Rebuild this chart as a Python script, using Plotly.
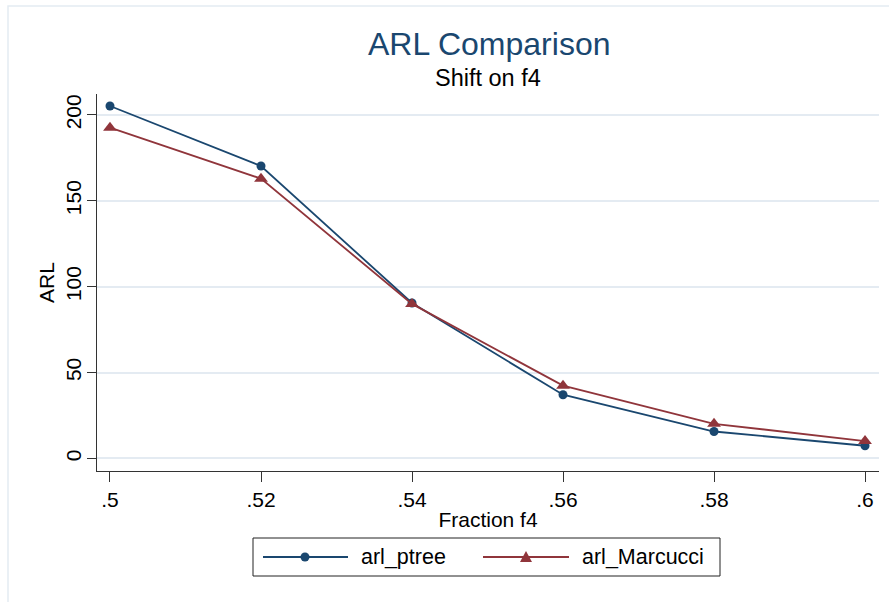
import plotly.graph_objects as go

# ---- data ----
fraction_f4 = [0.50, 0.52, 0.54, 0.56, 0.58, 0.60]
arl_ptree = [205.2, 170.3, 90.5, 37.1, 15.7, 7.4]
arl_marcucci = [192.6, 162.9, 90.0, 42.4, 20.2, 10.1]

x_tickvals = [0.50, 0.52, 0.54, 0.56, 0.58, 0.60]
x_ticktext = [".5", ".52", ".54", ".56", ".58", ".6"]
y_tickvals = [0, 50, 100, 150, 200]
y_ticktext = ["0", "50", "100", "150", "200"]

series_names = ["arl_ptree", "arl_Marcucci"]

NAVY = "#1a476f"
MAROON = "#90353b"
GRID = "#e4ebf2"
FONT = "Liberation Sans, Arial, sans-serif"

W, H = 889, 602
ML, MR, MT, MB = 97, 10, 94, 131
PW, PH = W - ML - MR, H - MT - MB


def px(xp):
    return (xp - ML) / PW


def py(yp):
    return (H - MB - yp) / PH


fig = go.Figure()
fig.add_trace(go.Scatter(
    x=fraction_f4, y=arl_ptree, name=series_names[0], mode="lines+markers",
    line=dict(color=NAVY, width=1.8),
    marker=dict(symbol="circle", size=9, color=NAVY),
))
fig.add_trace(go.Scatter(
    x=fraction_f4, y=arl_marcucci, name=series_names[1], mode="lines+markers",
    line=dict(color=MAROON, width=1.8),
    marker=dict(symbol="triangle-up", size=12, color=MAROON),
))

shapes = []
# outer graph frame
shapes.append(dict(type="rect", xref="paper", yref="paper",
                   x0=px(8), x1=px(W + 10), y0=py(6), y1=py(H + 10),
                   line=dict(color=GRID, width=1.5), fillcolor="rgba(0,0,0,0)", layer="below"))
# legend box
shapes.append(dict(type="rect", xref="paper", yref="paper",
                   x0=px(253), x1=px(720), y0=py(538), y1=py(576),
                   line=dict(color="#222222", width=1), fillcolor="white"))
# legend samples
shapes.append(dict(type="line", xref="paper", yref="paper",
                   x0=px(263), x1=px(348), y0=py(557), y1=py(557),
                   line=dict(color=NAVY, width=1.8)))
shapes.append(dict(type="circle", xref="paper", yref="paper",
                   x0=px(300.5), x1=px(309.5), y0=py(561.5), y1=py(552.5),
                   line=dict(color=NAVY, width=0), fillcolor=NAVY))
shapes.append(dict(type="line", xref="paper", yref="paper",
                   x0=px(483), x1=px(569), y0=py(557), y1=py(557),
                   line=dict(color=MAROON, width=1.8)))
tri = "M {:.5f},{:.5f} L {:.5f},{:.5f} L {:.5f},{:.5f} Z".format(
    px(520), py(562), px(532), py(562), px(526), py(551))
shapes.append(dict(type="path", xref="paper", yref="paper", path=tri,
                   line=dict(color=MAROON, width=0), fillcolor=MAROON))

annotations = [
    dict(text="ARL Comparison", xref="paper", yref="paper", x=px(489), y=py(44),
         xanchor="center", yanchor="middle", showarrow=False,
         font=dict(family=FONT, size=32, color=NAVY)),
    dict(text="Shift on f4", xref="paper", yref="paper", x=px(488), y=py(78),
         xanchor="center", yanchor="middle", showarrow=False,
         font=dict(family=FONT, size=23.5, color="black")),
    dict(text=series_names[0], xref="paper", yref="paper", x=px(359), y=py(557),
         xanchor="left", yanchor="middle", showarrow=False,
         font=dict(family=FONT, size=21.5, color="black")),
    dict(text=series_names[1], xref="paper", yref="paper", x=px(580), y=py(557),
         xanchor="left", yanchor="middle", showarrow=False,
         font=dict(family=FONT, size=21.5, color="black")),
]

fig.update_layout(
    width=W, height=H,
    margin=dict(l=ML, r=MR, t=MT, b=MB, pad=0),
    paper_bgcolor="white", plot_bgcolor="white",
    showlegend=False,
    font=dict(family=FONT, color="black"),
    shapes=shapes, annotations=annotations,
)
fig.update_xaxes(
    range=[0.49828, 0.60185], tickvals=x_tickvals, ticktext=x_ticktext,
    showgrid=False, zeroline=False, showline=True, linecolor="#333333", linewidth=1.3,
    ticks="outside", ticklen=10, tickcolor="#333333", tickwidth=1.2,
    tickfont=dict(family=FONT, size=21, color="black"),
    title=dict(text="Fraction f4", font=dict(family=FONT, size=21, color="black"), standoff=1),
)
fig.update_yaxes(
    range=[-7.3, 212.2], tickvals=y_tickvals, ticktext=y_ticktext, tickangle=-90,
    ticklabelstandoff=-3,
    showgrid=True, gridcolor=GRID, gridwidth=1.5, zeroline=False,
    showline=True, linecolor="#333333", linewidth=1.3,
    ticks="outside", ticklen=9, tickcolor="#333333", tickwidth=1.2,
    tickfont=dict(family=FONT, size=21, color="black"),
    title=dict(text="ARL", font=dict(family=FONT, size=21, color="black"), standoff=2),
)

fig.write_html("out.html")
